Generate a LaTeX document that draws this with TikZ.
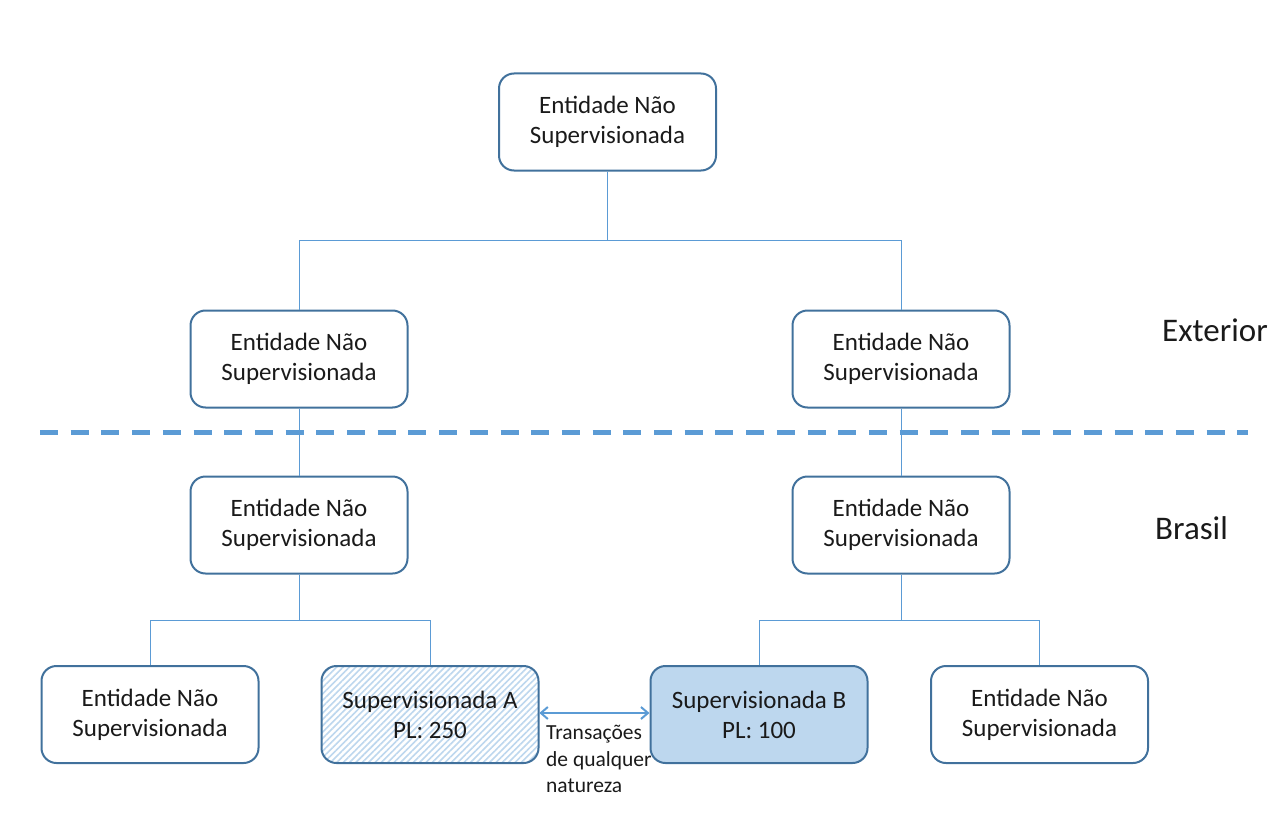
\documentclass[tikz,border=0pt]{standalone}
\usepackage{fontspec}
\setmainfont{Carlito}
\usetikzlibrary{patterns.meta,arrows.meta}
\definecolor{bord}{HTML}{41719C}
\definecolor{conn}{HTML}{5B9BD5}
\definecolor{fillB}{HTML}{BDD7EE}
\definecolor{hatch}{HTML}{BDD7EE}
\definecolor{txt}{HTML}{1A1A1A}
\begin{document}
\begin{tikzpicture}[x=1pt,y=-1pt,
  box/.style={draw=bord,line width=2pt,rounded corners=15pt,minimum width=217pt,minimum height=97pt,align=center,text=txt,font=\fontsize{25}{30}\selectfont,inner sep=0pt},
  link/.style={draw=conn,line width=1pt}]
\useasboundingbox (0,0) rectangle (1284,832);
\node[box] (top) at (607.5,122) {Entidade Não\\Supervisionada};
\node[box] (ml) at (299,359) {Entidade Não\\Supervisionada};
\node[box] (mr) at (901,359) {Entidade Não\\Supervisionada};
\node[box] (bl) at (299,525) {Entidade Não\\Supervisionada};
\node[box] (br) at (901,525) {Entidade Não\\Supervisionada};
\node[box] (e1) at (150,714.5) {Entidade Não\\Supervisionada};
\node[box,preaction={fill=white},pattern={Lines[angle=45,distance=4.5pt,line width=1.6pt]},pattern color=hatch] (sa) at (430,714.5) {Supervisionada A\\PL: 250};
\node[box,fill=fillB] (sb) at (759,714.5) {Supervisionada B\\PL: 100};
\node[box] (e2) at (1039.5,714.5) {Entidade Não\\Supervisionada};
% connectors
\draw[link] (top.south) -- ++(0,69) -| (ml.north);
\draw[link] (top.south) -- ++(0,69) -| (mr.north);
\draw[link] (ml.south) -- (bl.north);
\draw[link] (mr.south) -- (br.north);
\draw[link] (bl.south) -- ++(0,45.5) -| (e1.north);
\draw[link] (bl.south) -- ++(0,45.5) -| (sa.north);
\draw[link] (br.south) -- ++(0,45.5) -| (sb.north);
\draw[link] (br.south) -- ++(0,45.5) -| (e2.north);
% dashed border
\coordinate (dl) at (40,432);
\coordinate (dr) at (1248,432);
\draw[conn,line width=5pt,dash pattern=on 18pt off 12.7pt] (dl) -- (dr);
\node[font=\fontsize{33}{36}\selectfont,text=txt,anchor=west,inner sep=0pt] (ext) at (1162,330) {Exterior};
\node[font=\fontsize{33}{36}\selectfont,text=txt,anchor=west,inner sep=0pt] (bra) at (1155,528) {Brasil};
% transaction arrow
\draw[conn,line width=2pt,{Straight Barb[length=7pt,width=12pt]}-{Straight Barb[length=7pt,width=12pt]}] (sa.east|-0,713) -- (sb.west|-0,713);
\node[font=\fontsize{21.5}{26.5}\selectfont,text=txt,align=left,anchor=north west,inner sep=0pt] (tr) at (546,725) {Transações\\de qualquer\\natureza};
\end{tikzpicture}
\end{document}
